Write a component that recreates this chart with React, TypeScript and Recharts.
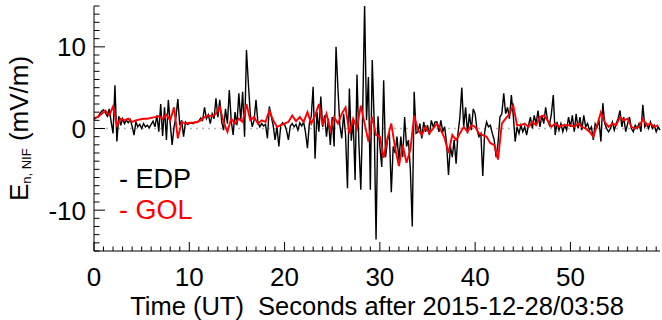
import React from 'react';
import { LineChart, Line, XAxis, YAxis, ReferenceLine, Legend } from 'recharts';

const FONT = '"Liberation Sans", Arial, Helvetica, sans-serif';

// sampling step (s) of each trace
const EDP_STEP = 0.2;
const GOL_STEP = 0.4;

// E_n (mV/m), EDP, one value every 0.2 s from t = 0
const edpValues = [
  1.1, 1.3, 1.4, 1.8, 2.1, 2.3, 1.9, 1.5, 2.4, 0.8,
  -0.6, 5.3, -1.6, 1.5, 0.4, 1.2, 0.6, 1.0, 0.7, 1.1,
  0.3, -0.8, 0.8, 0.2, 0.5, 0.0, 0.6, 0.2, 0.4, 0.1,
  0.5, 0.9, 0.2, 1.6, -0.4, 3.0, -0.9, 2.6, -1.4, 3.5,
  0.6, -2.0, 0.2, 1.4, 3.6, 0.4, 1.0, -1.0, 0.8, 0.5,
  0.6, 0.7, 0.6, 0.8, 0.7, 0.9, 1.3, 1.0, 2.6, 1.2,
  1.7, 0.6, 1.8, 1.2, 3.7, 1.4, 3.5, 0.8, -0.2, 2.4,
  0.6, 4.7, 1.0, -0.8, 2.0, 0.4, 4.3, 1.0, 4.5, -1.0,
  9.6, 5.5, 1.8, 0.2, 1.0, 3.5, 0.8, 0.2, 0.6, 0.3,
  0.5, -1.2, 2.7, 1.5, 0.4, -1.4, 0.2, -2.2, 0.4, 0.7,
  0.5, -0.2, -1.4, 0.3, 0.6, 0.2, 0.5, -0.2, 0.7, 0.3,
  0.8, -0.5, -2.4, 0.6, 1.5, 5.1, -3.7, 2.0, -0.4, 3.9,
  0.2, 1.6, -1.0, 1.2, -2.0, 1.4, -2.2, 10.0, 4.9, 0.4,
  -1.2, 1.8, -0.8, -7.3, 4.9, -1.5, 1.0, -6.3, 6.6, -1.8,
  -7.5, 2.0, 15.2, 1.0, 6.3, -7.5, 8.4, 1.0, -13.6, 1.5,
  -2.2, -4.7, 5.9, -3.5, -1.4, -0.6, -7.8, -2.2, -3.0, -1.0,
  -3.9, -1.0, -3.5, 1.4, -2.2, -1.4, -5.0, -12.0, 4.5, -0.6,
  -0.4, 0.6, -1.2, 0.8, -0.4, 0.4, -0.8, 1.0, 0.2, 0.8,
  0.8, -0.4, 1.0, -0.4, 0.2, -1.8, -5.7, -2.2, -3.5, -1.4,
  -4.3, -0.6, 1.4, 5.0, 0.2, 2.6, -0.6, 1.8, -0.2, 2.4,
  1.8, -0.2, -1.0, -0.6, -5.8, -0.4, 0.8, 0.2, 0.4, -0.6,
  -1.4, -3.5, -1.8, 1.4, 1.8, 4.3, 1.8, 2.6, 1.2, 4.1,
  1.6, -1.6, 0.2, -0.6, 0.4, -0.4, 0.2, -0.8, 0.4, 1.4,
  0.0, 1.6, 0.6, 2.2, 0.2, 1.6, 0.6, 2.6, 1.0, 0.4,
  1.8, 4.1, -0.8, 0.8, -0.2, 0.6, -0.4, 0.4, -0.2, 1.4,
  0.2, 1.6, -0.4, 1.8, 0.0, 1.4, -0.2, 1.6, 0.2, 0.6,
  -0.2, 0.2, -1.4, 0.6, 0.2, 1.0, -1.6, 3.1, 0.6, 0.0,
  -0.4, 0.0, 0.8, -0.2, 0.6, 1.2, 2.2, 0.2, 1.4, -0.4,
  0.6, 1.4, 0.0, -0.4, 0.4, 0.0, 0.6, -0.4, 2.9, 0.2,
  0.6, 0.0, 0.8, 0.0, 0.4, -0.4, 0.2, -0.2,
];

// E_n (mV/m), GOL, one value every 0.4 s from t = 0
const golValues = [
  1.3, 1.4, 1.8, 2.2, 1.6, 2.7, 0.4, 1.2, 1.0, 1.2,
  0.8, 1.0, 1.1, 1.2, 1.2, 1.3, 1.4, 1.5, 1.2, 1.7,
  1.0, 2.6, -1.2, 0.8, 0.6, 0.7, 0.7, 0.8, 1.0, 1.4,
  1.6, 1.5, 1.8, 2.6, 0.8, -0.4, 1.2, 0.6, 1.2, 0.8,
  3.0, 1.0, 1.4, 0.6, 1.0, 0.8, 2.2, 1.0, 0.2, 0.4,
  0.6, 0.8, 1.6, 0.9, 1.4, 0.8, 2.0, 0.6, 1.6, 3.0,
  0.4, 1.8, -0.2, 1.4, 0.6, 1.8, 2.6, -0.6, 1.2, 0.0,
  2.8, 0.6, -1.6, 1.4, -0.8, -1.0, -3.6, -1.2, 0.6, -2.4,
  -4.6, -2.0, -4.2, -2.6, 1.6, -0.2, -0.8, 0.2, -0.6, 0.0,
  0.6, -0.2, -1.2, -3.0, -0.8, -1.4, -0.6, 0.2, -0.4, 0.4,
  0.2, -0.6, -0.8, -1.0, -1.8, -2.0, -3.8, 0.6, 1.2, 1.8,
  2.8, 0.4, 0.4, 0.6, 0.2, 0.8, 0.4, 1.4, 1.6, 1.0,
  0.2, 0.6, 0.2, 0.4, 0.4, 0.4, 0.2, 0.6, 0.2, 0.0,
  -0.4, -1.0, 0.4, 2.0, 0.8, 0.2, 0.6, 0.4, 1.4, 1.0,
  1.2, 0.2, 0.0, 0.2, 1.2, 0.4, 0.6, 0.2, 0.4,
];

const xTicks = [
  0, 1, 2, 3, 4, 5, 6, 7, 8, 9, 10, 11, 12, 13, 14, 15, 16, 17, 18, 19,
  20, 21, 22, 23, 24, 25, 26, 27, 28, 29, 30, 31, 32, 33, 34, 35, 36, 37, 38, 39,
  40, 41, 42, 43, 44, 45, 46, 47, 48, 49, 50, 51, 52, 53, 54, 55, 56, 57, 58, 59,
];
const xLabels = [0, 10, 20, 30, 40, 50];
const yTicks = [
  -15, -14, -13, -12, -11, -10, -9, -8, -7, -6, -5, -4, -3, -2, -1, 0,
  1, 2, 3, 4, 5, 6, 7, 8, 9, 10, 11, 12, 13, 14, 15,
];
const yLabels = [-10, 0, 10];

const edpData = edpValues.map((v, i) => ({ t: Math.round(i * EDP_STEP * 10) / 10, v }));
const golData = golValues.map((v, i) => ({ t: Math.round(i * GOL_STEP * 10) / 10, v }));

const X_MAJOR = 9;
const X_MINOR = 4.5;
const Y_MAJOR = 11;
const Y_MINOR = 5.5;
const LABEL_SIZE = 26;

const BottomTick = ({ x, y, payload }: any) => {
  const major = xLabels.includes(payload.value);
  return (
    <g>
      <line x1={x} y1={y} x2={x} y2={y - (major ? X_MAJOR : X_MINOR)} stroke="#000" strokeWidth={1} />
      {major && (
        <text x={x} y={y + 35} textAnchor="middle" fontSize={LABEL_SIZE} fontFamily={FONT} fill="#000">
          {payload.value}
        </text>
      )}
    </g>
  );
};

const TopTick = ({ x, y, payload }: any) => {
  const major = xLabels.includes(payload.value);
  return <line x1={x} y1={y} x2={x} y2={y + (major ? X_MAJOR : X_MINOR)} stroke="#000" strokeWidth={1} />;
};

const LeftTick = ({ x, y, payload }: any) => {
  const major = yLabels.includes(payload.value);
  return (
    <g>
      <line x1={x} y1={y} x2={x + (major ? Y_MAJOR : Y_MINOR)} y2={y} stroke="#000" strokeWidth={1} />
      {major && (
        <text x={x - 8} y={y} dy="0.36em" textAnchor="end" fontSize={LABEL_SIZE} fontFamily={FONT} fill="#000">
          {payload.value}
        </text>
      )}
    </g>
  );
};

const RightTick = ({ x, y, payload }: any) => {
  const major = yLabels.includes(payload.value);
  return <line x1={x} y1={y} x2={x - (major ? Y_MAJOR : Y_MINOR)} y2={y} stroke="#000" strokeWidth={1} />;
};

const YTitle = ({ viewBox }: any) => {
  const cx = 28;
  const cy = viewBox.y + viewBox.height / 2;
  return (
    <text
      x={cx}
      y={cy}
      transform={`rotate(-90, ${cx}, ${cy})`}
      textAnchor="middle"
      fontSize={26}
      fontFamily={FONT}
      fill="#000"
      style={{ whiteSpace: 'pre' }}
    >
      E
      <tspan fontSize={13} dy={3}>n, NIF</tspan>
      <tspan dy={-3}> (mV/m)</tspan>
    </text>
  );
};

const XTitle = ({ viewBox }: any) => {
  const cx = viewBox.x + viewBox.width / 2;
  return (
    <text
      x={cx}
      y={viewBox.y + 64}
      textAnchor="middle"
      fontSize={25.5}
      fontFamily={FONT}
      fill="#000"
      style={{ whiteSpace: 'pre' }}
    >
      {'Time (UT)  Seconds after 2015-12-28/03:58'}
    </text>
  );
};

const LegendBox = ({ payload }: any) => (
  <div style={{ fontFamily: FONT, fontSize: 27, lineHeight: '31px' }}>
    {(payload || []).map((p: any) => (
      <div key={p.value} style={{ color: p.color, whiteSpace: 'pre' }}>
        {`- ${p.value}`}
      </div>
    ))}
  </div>
);

export default function App() {
  return (
    <div style={{ position: 'absolute', left: 0, top: 0, width: 662, height: 320, background: '#fff' }}>
      <LineChart width={662} height={320} margin={{ top: 6, right: 2, left: 0, bottom: 0 }}>
        <XAxis
          xAxisId="b"
          dataKey="t"
          type="number"
          domain={[0, 59.4]}
          ticks={xTicks}
          interval={0}
          height={69}
          tickSize={0}
          tickMargin={0}
          tickLine={false}
          axisLine={{ stroke: '#000', strokeWidth: 1 }}
          tick={<BottomTick />}
          label={<XTitle />}
        />
        <XAxis
          xAxisId="t"
          orientation="top"
          dataKey="t"
          type="number"
          domain={[0, 59.4]}
          ticks={xTicks}
          interval={0}
          height={0}
          tickSize={0}
          tickMargin={0}
          tickLine={false}
          axisLine={{ stroke: '#000', strokeWidth: 1 }}
          tick={<TopTick />}
        />
        <YAxis
          yAxisId="l"
          type="number"
          domain={[-15, 15]}
          allowDataOverflow
          ticks={yTicks}
          interval={0}
          width={94}
          tickSize={0}
          tickMargin={0}
          tickLine={false}
          axisLine={{ stroke: '#000', strokeWidth: 1 }}
          tick={<LeftTick />}
          label={<YTitle />}
        />
        <YAxis
          yAxisId="r"
          orientation="right"
          type="number"
          domain={[-15, 15]}
          allowDataOverflow
          ticks={yTicks}
          interval={0}
          width={0}
          tickSize={0}
          tickMargin={0}
          tickLine={false}
          axisLine={{ stroke: '#000', strokeWidth: 1 }}
          tick={<RightTick />}
        />
        <ReferenceLine
          xAxisId="b"
          yAxisId="l"
          y={0}
          stroke="#b4b4b4"
          strokeWidth={1.5}
          strokeDasharray="2 4"
        />
        <Line
          xAxisId="b"
          yAxisId="l"
          data={edpData}
          dataKey="v"
          name="EDP"
          type="linear"
          stroke="#000"
          strokeWidth={1.4}
          dot={false}
          isAnimationActive={false}
        />
        <Line
          xAxisId="b"
          yAxisId="l"
          data={golData}
          dataKey="v"
          name="GOL"
          type="linear"
          stroke="#ff0000"
          strokeWidth={1.9}
          dot={false}
          isAnimationActive={false}
        />
        <Legend
          layout="vertical"
          align="center"
          verticalAlign="middle"
          content={<LegendBox />}
          wrapperStyle={{ left: 119, top: 164, width: 'auto', height: 'auto' }}
        />
      </LineChart>
    </div>
  );
}
